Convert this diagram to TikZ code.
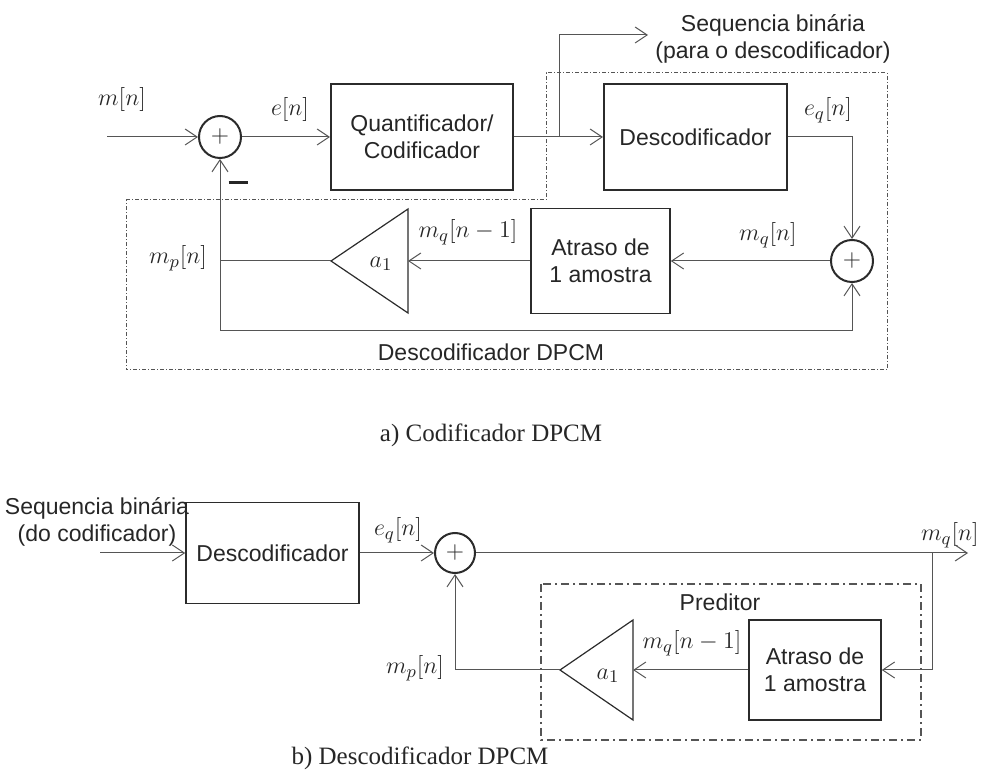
\documentclass[tikz,border=0pt]{standalone}
\usepackage[no-math]{fontspec}
\setmainfont{Liberation Sans}
\newfontfamily\capfont{Liberation Serif}
\usetikzlibrary{arrows.meta,positioning}
\definecolor{linegray}{HTML}{555555}
\definecolor{boxgray}{HTML}{2B2B2B}

\begin{document}
\begin{tikzpicture}[
    x=0.5pt, y=-0.5pt,
    every node/.style={font=\fontsize{11.5}{13.5}\selectfont, align=center, text=black!85},
    siglabel/.style={font=\fontsize{12.5}{14}\selectfont, inner sep=1pt},
    block/.style={rectangle, draw=boxgray, line width=1pt, inner sep=0pt},
    adder/.style={circle, draw=boxgray, line width=1pt, minimum size=21pt, inner sep=0pt, font=\fontsize{12.5}{14}\selectfont},
    sig/.style={draw=linegray, line width=0.5pt},
    flow/.style={sig, -{Straight Barb[length=6pt,width=8pt]}},
    gain/.style={draw=boxgray, line width=0.6pt, line join=miter},
    frame/.style={draw=linegray, line width=0.5pt, dash pattern=on 2pt off 1pt on 0.5pt off 1pt},
    caption/.style={font=\capfont\fontsize{12.5}{14}\selectfont}
  ]
    \useasboundingbox (0,0) rectangle (982,770);

    % a) codificador
    \node[adder] (sum) at (220,137) {$+$};
    \node[block, minimum width=91pt, minimum height=53pt] (quant) at (422,137) {Quantificador/\\Codificador};
    \node[block, minimum width=91.5pt, minimum height=53pt] (dec) at (695.5,137) {Descodificador};
    \node[adder] (acc) at (852,261) {$+$};
    \node[block, line width=0.8pt, minimum width=69.5pt, minimum height=52.5pt] (delay) at (600.5,261) {Atraso de\\1 amostra};

    \coordinate (min) at (107,137);
    \coordinate (tap) at (559,137);
    \coordinate (bits) at (648,35);
    \coordinate (fb) at (220,331);
    \coordinate (gin) at (408,261);
    \coordinate (gout) at (331,261);
    \draw[gain] (408,209) -- (408,313) -- (gout) -- cycle;
    \node[siglabel] (coef) at (381,264) {$a_1$};

    \node[siglabel] (lm) at (122,100) {$m[n]$};
    \node[siglabel] (le) at (290,110) {$e[n]$};
    \node[siglabel] (leq) at (828,110) {$e_q[n]$};
    \node[siglabel] (lmq) at (768,235) {$m_q[n]$};
    \node[siglabel] (lmq1) at (468,232) {$m_q[n-1]$};
    \node[siglabel] (lmp) at (178,258) {$m_p[n]$};
    \node (neg) at (238,183) {\rule{9.5pt}{1.5pt}};
    \node (lbits) at (773,39) {Sequencia binária\\(para o descodificador)};
    \node (lloop) at (491,352) {Descodificador DPCM};

    \draw[flow] (min) -- (sum);
    \draw[flow] (sum) -- (quant);
    \draw[sig] (quant) -- (tap);
    \draw[flow] (tap) -- (dec);
    \draw[flow] (tap) |- (bits);
    \draw[flow] (dec) -| (acc);
    \draw[flow] (acc) -- (delay);
    \draw[flow] (delay) -- (gin);
    \draw[sig] (gout) -- (gout -| sum);
    \draw[flow] (fb) -- (sum);
    \draw[flow] (fb) -| (acc);

    \draw[frame] (126,200) -- (546,200) -- (546,73) -- (887,73) -- (887,370) -- (126,370) -- cycle;
    \node[caption] (capa) at (491,435) {a) Codificador DPCM};

    % b) descodificador
    \node[block, line width=0.8pt, minimum width=86.5pt, minimum height=50.5pt] (rxdec) at (272.5,553) {Descodificador};
    \node[adder, minimum size=20pt] (rxsum) at (455,553) {$+$};
    \node[block, line width=0.8pt, minimum width=66pt, minimum height=50pt] (rxdelay) at (815,670) {Atraso de\\1 amostra};

    \coordinate (rxin) at (100,553);
    \coordinate (rxout) at (968,553);
    \coordinate (rxtap) at (932,553);
    \coordinate (rxgin) at (633,670);
    \coordinate (rxgout) at (560,670);
    \draw[gain] (633,620) -- (633,720) -- (rxgout) -- cycle;
    \node[siglabel] (rxcoef) at (608,676) {$a_1$};

    \node (lrx) at (97,522) {Sequencia binária\\(do codificador)};
    \node[siglabel] (lrxeq) at (398,530) {$e_q[n]$};
    \node[siglabel, anchor=east] (lrxmq) at (981,535) {$m_q[n]$};
    \node[siglabel] (lrxmq1) at (692,643) {$m_q[n-1]$};
    \node[siglabel] (lrxmp) at (415,668) {$m_p[n]$};

    \draw[flow] (rxin) -- (rxdec);
    \draw[flow] (rxdec) -- (rxsum);
    \draw[flow] (rxsum) -- (rxout);
    \draw[flow] (rxtap) |- (rxdelay);
    \draw[flow] (rxdelay) -- (rxgin);
    \draw[flow] (rxgout) -| (rxsum);

    \draw[frame, line width=0.8pt, dash pattern=on 4pt off 2pt on 1pt off 2pt] (541,584) rectangle (921,740);
    \node (lpred) at (720,602) {Preditor};
    \node[caption] (capb) at (420,758) {b) Descodificador DPCM};
  \end{tikzpicture}
\end{document}
